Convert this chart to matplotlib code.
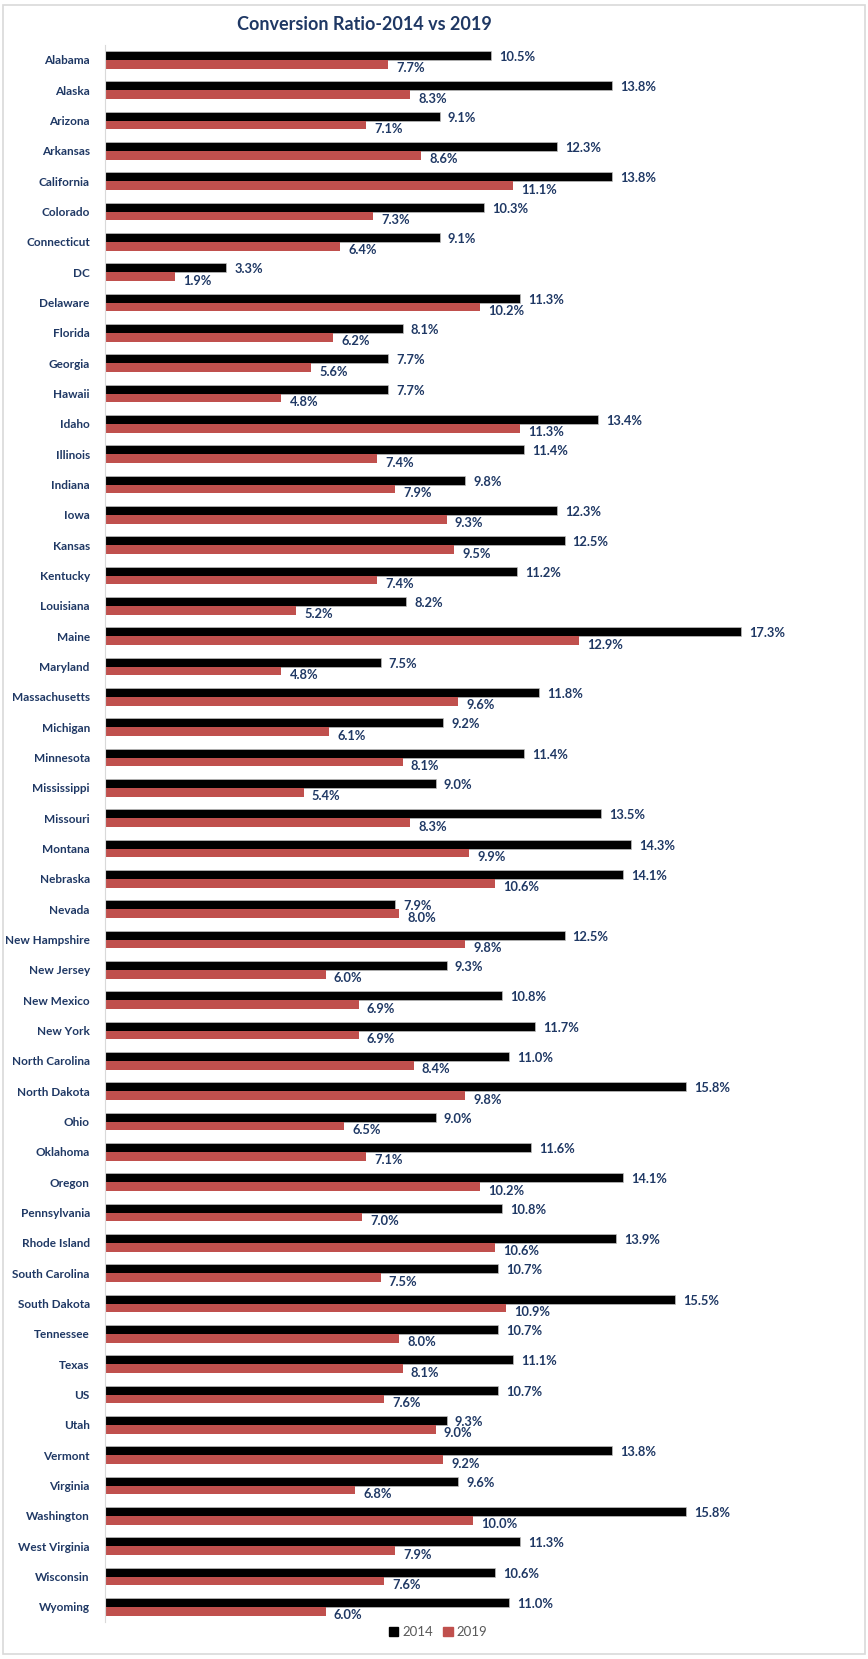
import numpy as np
import matplotlib.pyplot as plt
from matplotlib.patches import Rectangle, Patch

plt.rcParams['font.family'] = ['Lato', 'DejaVu Sans']

states = ["Alabama", "Alaska", "Arizona", "Arkansas", "California", "Colorado",
          "Connecticut", "DC", "Delaware", "Florida", "Georgia", "Hawaii", "Idaho",
          "Illinois", "Indiana", "Iowa", "Kansas", "Kentucky", "Louisiana", "Maine",
          "Maryland", "Massachusetts", "Michigan", "Minnesota", "Mississippi",
          "Missouri", "Montana", "Nebraska", "Nevada", "New Hampshire", "New Jersey",
          "New Mexico", "New York", "North Carolina", "North Dakota", "Ohio",
          "Oklahoma", "Oregon", "Pennsylvania", "Rhode Island", "South Carolina",
          "South Dakota", "Tennessee", "Texas", "US", "Utah", "Vermont", "Virginia",
          "Washington", "West Virginia", "Wisconsin", "Wyoming"]
r2014 = [10.5, 13.8, 9.1, 12.3, 13.8, 10.3, 9.1, 3.3, 11.3, 8.1, 7.7, 7.7, 13.4,
         11.4, 9.8, 12.3, 12.5, 11.2, 8.2, 17.3, 7.5, 11.8, 9.2, 11.4, 9.0, 13.5,
         14.3, 14.1, 7.9, 12.5, 9.3, 10.8, 11.7, 11.0, 15.8, 9.0, 11.6, 14.1, 10.8,
         13.9, 10.7, 15.5, 10.7, 11.1, 10.7, 9.3, 13.8, 9.6, 15.8, 11.3, 10.6, 11.0]
r2019 = [7.7, 8.3, 7.1, 8.6, 11.1, 7.3, 6.4, 1.9, 10.2, 6.2, 5.6, 4.8, 11.3,
         7.4, 7.9, 9.3, 9.5, 7.4, 5.2, 12.9, 4.8, 9.6, 6.1, 8.1, 5.4, 8.3,
         9.9, 10.6, 8.0, 9.8, 6.0, 6.9, 6.9, 8.4, 9.8, 6.5, 7.1, 10.2, 7.0,
         10.6, 7.5, 10.9, 8.0, 8.1, 7.6, 9.0, 9.2, 6.8, 10.0, 7.9, 7.6, 6.0]

navy = "#1F3864"
red = "#C0504D"

fig = plt.figure(figsize=(8.68, 16.59), dpi=100)
ax = fig.add_axes([0.121, 0.0223, 0.847, 0.9507])

y = np.arange(len(states))
h = 0.29
ax.barh(y - h / 2, r2014, height=h, color="black", edgecolor="#bfbfbf", linewidth=0.5)
ax.barh(y + h / 2, r2019, height=h, color=red)

for i in range(len(states)):
    ax.text(r2014[i] + 0.22, y[i] - h / 2 + 0.05, "%.1f%%" % r2014[i], va="center",
            ha="left", fontsize=9.3, fontweight="bold", color=navy)
    ax.text(r2019[i] + 0.22, y[i] + h / 2 + 0.13, "%.1f%%" % r2019[i], va="center",
            ha="left", fontsize=9.3, fontweight="bold", color=navy)

ax.set_xlim(0, 20)
ax.set_ylim(len(states) - 0.5, -0.5)
ax.set_yticks(y)
ax.set_yticklabels(states, fontsize=8.5, fontweight="bold", color=navy)
ax.tick_params(axis="y", length=0, pad=11)
ax.set_xticks([])
for s in ["top", "right", "bottom"]:
    ax.spines[s].set_visible(False)
ax.spines["left"].set_color("#d9d9d9")

fig.text(364 / 868, 1 - 25 / 1659, "Conversion Ratio-2014 vs 2019", ha="center", va="center",
         fontsize=13, fontweight="bold", color=navy)

handles = [Patch(color="black"), Patch(color=red)]
fig.legend(handles, ["2014", "2019"], loc="center", bbox_to_anchor=(438 / 868, 1 - 1632 / 1659),
           ncol=2, frameon=False, fontsize=9.5, handlelength=0.7, handleheight=0.7,
           columnspacing=0.8, handletextpad=0.3, labelcolor="#595959")

fig.patches.append(Rectangle((0.004, 0.003), 0.992, 0.994, transform=fig.transFigure,
                             fill=False, edgecolor="#d9d9d9", linewidth=1.2))

fig.savefig("out.png", dpi=100)
